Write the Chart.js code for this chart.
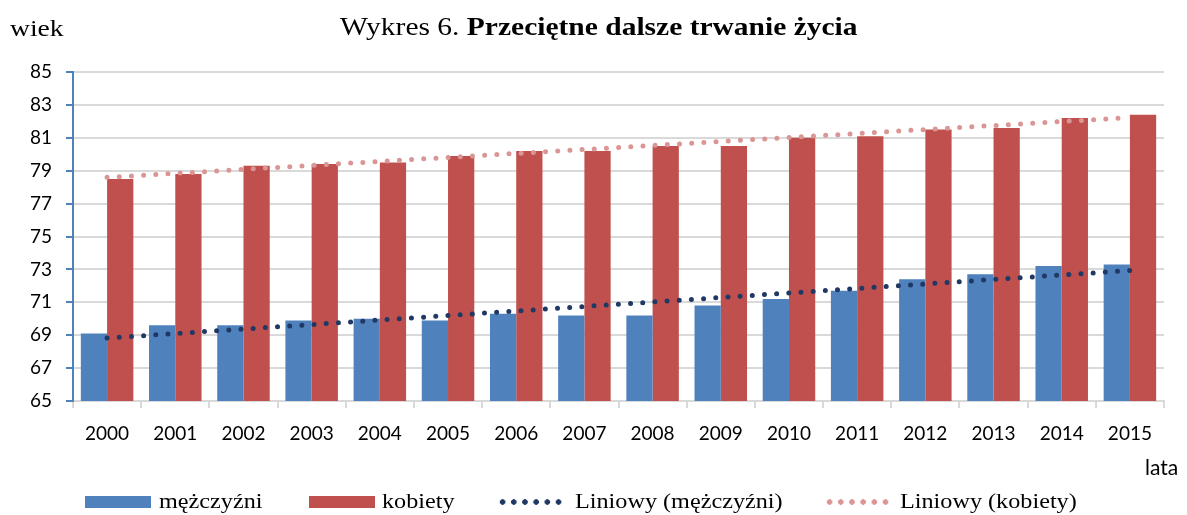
<!DOCTYPE html>
<html>
<head>
<meta charset="utf-8">
<script src="https://cdn.jsdelivr.net/npm/chart.js@4.4.1/dist/chart.umd.min.js"></script>
<style>
  html,body{margin:0;padding:0;background:#fff;}
  #wrap{position:relative;width:1187px;height:515px;overflow:hidden;}
  #c{position:absolute;left:0;top:0;}
  .t{position:absolute;font-family:"Liberation Serif","Times New Roman",serif;color:#000;white-space:nowrap;transform-origin:0 0;}
  .s{position:absolute;font-family:Lato,"Liberation Sans",sans-serif;color:#000;white-space:nowrap;}
  .sw{position:absolute;height:12px;}
  .dots{position:absolute;height:6px;background-size:11.2px 6px;background-repeat:repeat-x;}
</style>
</head>
<body>
<div id="wrap">
  <canvas id="c" width="1187" height="515"></canvas>
  <div class="t" style="left:10px;top:15px;font-size:24px;transform:scaleX(1.15);">wiek</div>
  <div class="t" style="left:340px;top:13px;font-size:25px;transform:scaleX(1.18);">Wykres 6. <b>Przeciętne dalsze trwanie życia</b></div>
  <div class="s" style="left:1145px;top:454px;font-size:21px;">lata</div>
  <div class="sw" style="left:85px;top:496px;width:66px;background:#4F81BD;"></div>
  <div class="t" style="left:159px;top:488px;font-size:22px;transform:scaleX(1.1);">mężczyźni</div>
  <div class="sw" style="left:309px;top:496px;width:66px;background:#C0504D;"></div>
  <div class="t" style="left:382px;top:488px;font-size:22px;transform:scaleX(1.1);">kobiety</div>
  <div class="dots" style="left:497px;top:499px;width:68px;background-image:radial-gradient(circle,#1F3864 2.5px,transparent 3px);"></div>
  <div class="t" style="left:575px;top:488px;font-size:22px;transform:scaleX(1.1);">Liniowy (mężczyźni)</div>
  <div class="dots" style="left:824px;top:499px;width:68px;background-image:radial-gradient(circle,#DA9694 2.5px,transparent 3px);"></div>
  <div class="t" style="left:900px;top:488px;font-size:22px;transform:scaleX(1.1);">Liniowy (kobiety)</div>
</div>
<script>
const years = ["2000","2001","2002","2003","2004","2005","2006","2007","2008","2009","2010","2011","2012","2013","2014","2015"];
const men   = [69.1,69.6,69.6,69.9,70.0,69.9,70.3,70.2,70.2,70.8,71.2,71.7,72.4,72.7,73.2,73.3];
const women = [78.5,78.8,79.3,79.4,79.5,79.9,80.2,80.2,80.5,80.5,81.0,81.1,81.5,81.6,82.2,82.4];
const yMin = 65, yMax = 85, yStep = 2;

// Linear trendline (least squares) of the read values, as in the original "Liniowy" series
function linearTrend(vals){
  const n = vals.length;
  let sx=0, sy=0, sxx=0, sxy=0;
  vals.forEach((v,i)=>{ sx+=i; sy+=v; sxx+=i*i; sxy+=i*v; });
  const b = (n*sxy - sx*sy)/(n*sxx - sx*sx);
  const a = (sy - b*sx)/n;
  return vals.map((v,i)=>a+b*i);
}
const menTrend = linearTrend(men);
const womenTrend = linearTrend(women);

const tickFont = {family:"Lato, 'Liberation Sans', sans-serif", size:19};

new Chart(document.getElementById('c'), {
  type:'bar',
  data:{
    labels:years,
    datasets:[
      {type:'line', label:'Liniowy (mężczyźni)', data:menTrend, borderColor:'#1F3864', borderWidth:5,
       borderDash:[0,12.2], borderCapStyle:'round', pointRadius:0, fill:false, tension:0, order:0},
      {type:'line', label:'Liniowy (kobiety)', data:womenTrend, borderColor:'#DA9694', borderWidth:5,
       borderDash:[0,12.2], borderCapStyle:'round', pointRadius:0, fill:false, tension:0, order:0},
      {label:'mężczyźni', data:men, backgroundColor:'#4F81BD', borderWidth:0,
       categoryPercentage:0.77, barPercentage:1.0, order:1},
      {label:'kobiety', data:women, backgroundColor:'#C0504D', borderWidth:0,
       categoryPercentage:0.77, barPercentage:1.0, order:1}
    ]
  },
  options:{
    responsive:false, animation:false,
    layout:{padding:{left:0,right:23,top:72,bottom:0}},
    plugins:{legend:{display:false}, title:{display:false}, tooltip:{enabled:false}},
    scales:{
      x:{
        grid:{display:true, drawOnChartArea:false, drawTicks:true, tickLength:7, color:'#D9D9D9', lineWidth:2, offset:true},
        border:{display:true, color:'#D9D9D9', width:2},
        ticks:{font:tickFont, color:'#000', padding:14, maxRotation:0},
        afterFit:(s)=>{ s.height = 114; }
      },
      y:{
        min:yMin, max:yMax,
        grid:{color:'#D9D9D9', lineWidth:2, tickLength:7, tickColor:'#4F81BD'},
        border:{display:true, color:'#4F81BD', width:2},
        ticks:{stepSize:yStep, font:tickFont, color:'#000', padding:14},
        afterFit:(s)=>{ s.width = 73; }
      }
    }
  }
});
</script>
</body>
</html>
